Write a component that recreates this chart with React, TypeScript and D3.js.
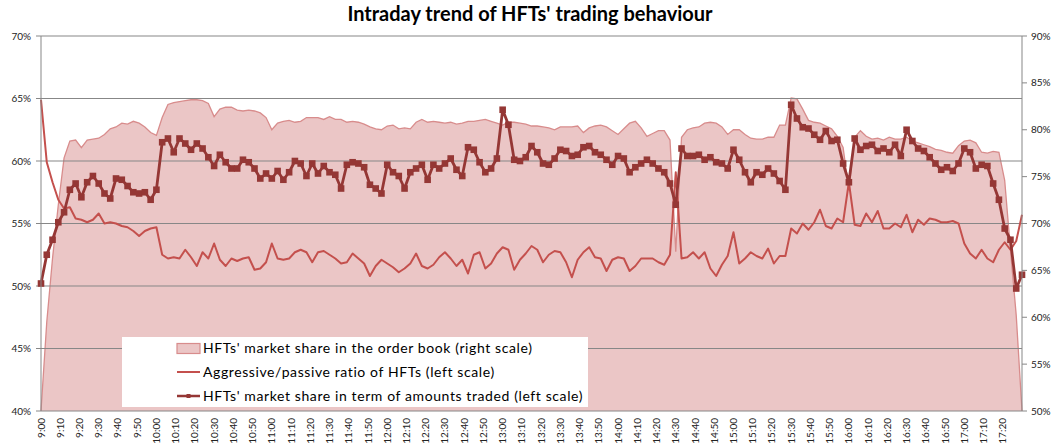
import React from 'react';
import { scaleLinear, area, line, range } from 'd3';

// sample times in minutes after 9:00, one every 3 minutes up to 17:30
const minutes = range(0, 511, 3);

const timeLabels = [
    '9:00', '9:10', '9:20', '9:30', '9:40', '9:50',
    '10:00', '10:10', '10:20', '10:30', '10:40', '10:50',
    '11:00', '11:10', '11:20', '11:30', '11:40', '11:50',
    '12:00', '12:10', '12:20', '12:30', '12:40', '12:50',
    '13:00', '13:10', '13:20', '13:30', '13:40', '13:50',
    '14:00', '14:10', '14:20', '14:30', '14:40', '14:50',
    '15:00', '15:10', '15:20', '15:30', '15:40', '15:50',
    '16:00', '16:10', '16:20', '16:30', '16:40', '16:50',
    '17:00', '17:10', '17:20'
];

const leftTicks = [40, 45, 50, 55, 60, 65, 70];
const rightTicks = [50, 55, 60, 65, 70, 75, 80, 85, 90];

// HFTs' market share in the order book (right scale, %)
const orderBookShare = [
    50.0, 59.5, 66.3, 72.0, 77.0, 78.8, 78.9, 78.1, 78.9, 79.0,
    79.1, 79.5, 80.1, 80.3, 80.7, 80.6, 80.9, 80.7, 80.3, 79.7,
    79.4, 81.3, 82.7, 82.9, 83.0, 83.1, 83.2, 83.2, 83.1, 82.8,
    81.4, 82.2, 82.4, 82.4, 82.1, 82.0, 82.1, 82.0, 81.8, 81.3,
    80.0, 80.7, 80.9, 81.0, 80.8, 80.9, 81.3, 81.3, 81.3, 81.1,
    81.4, 81.1, 81.1, 80.8, 80.9, 80.8, 80.6, 80.3, 80.1, 80.0,
    80.4, 80.5, 80.1, 80.2, 80.1, 80.8, 81.1, 80.8, 80.9, 80.8,
    80.7, 80.8, 80.6, 80.7, 80.9, 80.9, 81.0, 81.1, 80.9, 80.7,
    80.5, 80.8, 80.8, 80.7, 80.6, 80.4, 80.4, 80.3, 80.2, 80.0,
    80.3, 80.3, 80.3, 80.4, 79.7, 80.2, 80.4, 80.5, 80.3, 79.9,
    79.5, 80.1, 80.7, 80.9, 80.2, 79.3, 79.6, 79.9, 79.9, 78.9,
    67.0, 79.2, 80.0, 80.2, 80.3, 80.7, 80.8, 80.7, 80.3, 79.5,
    80.0, 80.0, 79.5, 79.1, 79.0, 79.0, 79.2, 79.2, 80.5, 80.5,
    83.4, 83.3, 82.2, 81.0, 80.8, 80.7, 80.4, 80.1, 79.3, 78.1,
    73.5, 79.2, 79.9, 79.3, 79.0, 79.1, 78.9, 79.2, 79.0, 79.0,
    79.2, 78.8, 78.6, 78.4, 78.2, 77.9, 77.8, 77.6, 77.5, 78.3,
    78.8, 78.9, 78.6, 77.6, 77.5, 77.7, 77.6, 74.6, 67.2, 60.2,
    50.0
];

// Aggressive/passive ratio of HFTs (left scale, %)
const aggressiveRatio = [
    64.9, 59.9, 58.3, 56.9, 56.2, 56.3, 55.4, 55.3, 55.1, 55.3,
    55.8, 55.0, 55.1, 55.0, 54.8, 54.7, 54.4, 54.0, 54.4, 54.6,
    54.7, 52.5, 52.2, 52.3, 52.2, 52.9, 52.3, 51.6, 52.7, 52.2,
    53.4, 52.1, 51.6, 52.2, 52.0, 52.2, 52.3, 51.3, 51.4, 51.9,
    53.4, 52.2, 52.1, 52.2, 52.7, 52.9, 52.7, 51.9, 52.7, 52.8,
    52.5, 52.2, 51.8, 51.9, 52.6, 52.2, 51.8, 50.8, 51.6, 52.1,
    51.8, 51.5, 51.1, 51.4, 51.8, 52.6, 51.6, 51.4, 51.7, 52.3,
    52.7, 52.2, 51.6, 52.1, 51.0, 52.5, 52.7, 51.4, 51.8, 52.6,
    53.1, 52.9, 51.3, 52.1, 52.6, 53.2, 52.9, 51.9, 52.5, 52.8,
    52.7, 51.9, 50.7, 52.1, 52.7, 53.1, 52.3, 52.2, 51.2, 52.1,
    52.3, 52.2, 51.2, 51.6, 52.2, 52.2, 52.2, 51.9, 51.7, 52.5,
    59.1, 52.2, 52.3, 52.7, 52.2, 52.7, 51.4, 50.8, 51.7, 52.4,
    54.3, 51.8, 52.2, 52.7, 52.4, 52.2, 53.0, 51.8, 52.4, 52.4,
    54.6, 54.2, 55.0, 54.5, 55.1, 56.1, 54.8, 54.6, 55.4, 55.1,
    58.3, 54.9, 54.8, 55.8, 55.1, 56.0, 54.6, 54.6, 55.0, 54.7,
    55.7, 54.3, 55.3, 54.9, 55.4, 55.3, 55.1, 55.1, 55.2, 55.0,
    53.4, 52.6, 52.2, 52.9, 52.2, 51.9, 52.9, 53.5, 52.9, 53.6,
    55.7
];

// HFTs' market share in term of amounts traded (left scale, %)
const amountShare = [
    50.2, 52.5, 53.7, 55.1, 55.9, 57.7, 58.2, 57.1, 58.3, 58.8,
    58.2, 57.4, 57.0, 58.6, 58.5, 58.0, 57.5, 57.4, 57.5, 56.9,
    57.7, 61.5, 61.8, 60.7, 61.8, 61.4, 60.9, 61.4, 61.0, 60.3,
    59.6, 60.5, 59.9, 59.4, 59.4, 60.1, 59.9, 59.4, 58.6, 59.0,
    58.6, 59.2, 58.5, 59.1, 60.0, 59.8, 58.8, 59.8, 59.0, 59.6,
    59.1, 58.9, 57.8, 59.7, 59.9, 59.8, 59.5, 58.1, 57.8, 57.4,
    59.7, 59.1, 58.8, 57.8, 59.1, 59.4, 59.7, 58.5, 59.7, 59.4,
    59.8, 60.2, 59.3, 58.8, 61.1, 60.9, 59.9, 59.1, 59.4, 60.2,
    64.1, 62.9, 60.1, 60.0, 60.3, 61.2, 60.7, 59.8, 59.7, 60.2,
    60.9, 60.8, 60.4, 60.5, 61.1, 61.2, 60.7, 60.5, 60.1, 59.7,
    60.4, 60.2, 59.1, 59.5, 59.8, 60.1, 59.8, 59.4, 59.1, 58.2,
    56.5, 61.0, 60.4, 60.4, 60.5, 60.1, 60.3, 59.9, 59.8, 59.4,
    60.9, 60.1, 59.1, 58.3, 59.1, 58.9, 59.4, 59.0, 58.4, 57.7,
    64.5, 63.4, 62.7, 62.6, 62.1, 61.7, 62.4, 61.6, 61.7, 59.8,
    58.3, 61.8, 60.9, 61.2, 61.3, 60.8, 61.0, 60.7, 61.3, 60.4,
    62.5, 61.6, 61.0, 60.8, 60.3, 59.8, 59.3, 59.5, 59.2, 59.8,
    61.0, 60.7, 59.4, 59.7, 59.6, 58.2, 56.9, 54.6, 53.7, 49.8,
    50.9
];

const legendItems = [
    "HFTs' market share in the order book (right scale)",
    'Aggressive/passive ratio of HFTs (left scale)',
    "HFTs' market share in term of amounts traded (left scale)"
];

const App = () => {
    const svgWidth = 1059;
    const svgHeight = 448;
    const margin = { top: 36, right: 37, bottom: 37, left: 41 };
    const x0 = margin.left;
    const x1 = svgWidth - margin.right;
    const yBottom = svgHeight - margin.bottom;

    const x = scaleLinear().domain([0, 510]).range([x0, x1]);
    const yLeft = scaleLinear().domain([40, 70]).range([yBottom, margin.top]);
    const yRight = scaleLinear().domain([50, 90]).range([yBottom, margin.top]);

    const areaFunc = area<number>().x((d, i) => x(minutes[i])).y0(yBottom).y1(d => yRight(d));
    const areaTop = line<number>().x((d, i) => x(minutes[i])).y(d => yRight(d));
    const leftLine = line<number>().x((d, i) => x(minutes[i])).y(d => yLeft(d));

    const font = 'Lato, "Open Sans", sans-serif';
    const axisColor = '#878787';
    const fillColor = '#ebc6c6';
    const edgeColor = '#d88c8c';
    const ratioColor = '#c4504d';
    const amountColor = '#953735';

    const legend = { x: 122, y: 337, w: 466, h: 70 };

    return (
        <svg width={svgWidth} height={svgHeight} style={{ position: 'absolute', left: 0, top: 0, background: '#fff' }}>
            <text x={530} y={21} textAnchor='middle' fontFamily={font} fontWeight='bold' fontSize={20} fill='#000'>
                Intraday trend of HFTs' trading behaviour
            </text>

            <path d={areaFunc(orderBookShare)} fill={fillColor} stroke='none' />
            <path d={areaTop(orderBookShare)} fill='none' stroke={edgeColor} strokeWidth={1.3} />

            <g>
                {leftTicks.slice(1).map(t => (
                    <line key={t} x1={x0 - 5} x2={x1} y1={yLeft(t)} y2={yLeft(t)} stroke={axisColor} strokeWidth={1} />
                ))}
                <line x1={x0 - 5} x2={x0} y1={yBottom} y2={yBottom} stroke={axisColor} />
            </g>

            <path d={leftLine(aggressiveRatio)} fill='none' stroke={ratioColor} strokeWidth={2} strokeLinejoin='round' />
            <path d={leftLine(amountShare)} fill='none' stroke={amountColor} strokeWidth={2.8} strokeLinejoin='round' />
            <g fill={amountColor}>
                {amountShare.map((v, i) => (
                    <rect key={i} x={x(minutes[i]) - 3.3} y={yLeft(v) - 3.3} width={6.6} height={6.6} />
                ))}
            </g>

            <line x1={x0} x2={x0} y1={margin.top} y2={yBottom} stroke={axisColor} />
            <line x1={x1} x2={x1} y1={margin.top} y2={yBottom} stroke={axisColor} />
            <line x1={x0} x2={x1} y1={yBottom} y2={yBottom} stroke={axisColor} />

            {leftTicks.map(t => (
                <text key={t} x={31} y={yLeft(t)} dy='0.35em' textAnchor='end' fontFamily={font} fontSize={10} fill='#222'>{t}%</text>
            ))}
            {rightTicks.map(t => (
                <g key={t}>
                    <line x1={x1} x2={x1 + 5} y1={yRight(t)} y2={yRight(t)} stroke={axisColor} />
                    <text x={1031} y={yRight(t)} dy='0.35em' textAnchor='start' fontFamily={font} fontSize={10} fill='#222'>{t}%</text>
                </g>
            ))}
            {timeLabels.map((lab, i) => (
                <text key={lab} transform={`translate(${x(i * 10)},418) rotate(-90)`} dy='0.35em' textAnchor='end'
                    fontFamily={font} fontSize={10} fill='#222'>{lab}</text>
            ))}

            <g>
                <rect x={legend.x} y={legend.y} width={legend.w} height={legend.h} fill='#fff' />
                <rect x={177} y={343.5} width={23} height={10} fill={fillColor} stroke={edgeColor} strokeWidth={1.2} />
                <line x1={177} x2={200} y1={372} y2={372} stroke={ratioColor} strokeWidth={2} />
                <line x1={177} x2={200} y1={396} y2={396} stroke={amountColor} strokeWidth={2.5} />
                <rect x={186.5} y={394} width={4} height={4} fill={amountColor} />
                {legendItems.map((txt, i) => (
                    <text key={i} x={203} y={348.5 + i * 24} dy='0.35em' fontFamily={font} fontSize={14}
                        letterSpacing={0.6} fill='#000'>{txt}</text>
                ))}
            </g>
        </svg>
    );
};

export default App;
